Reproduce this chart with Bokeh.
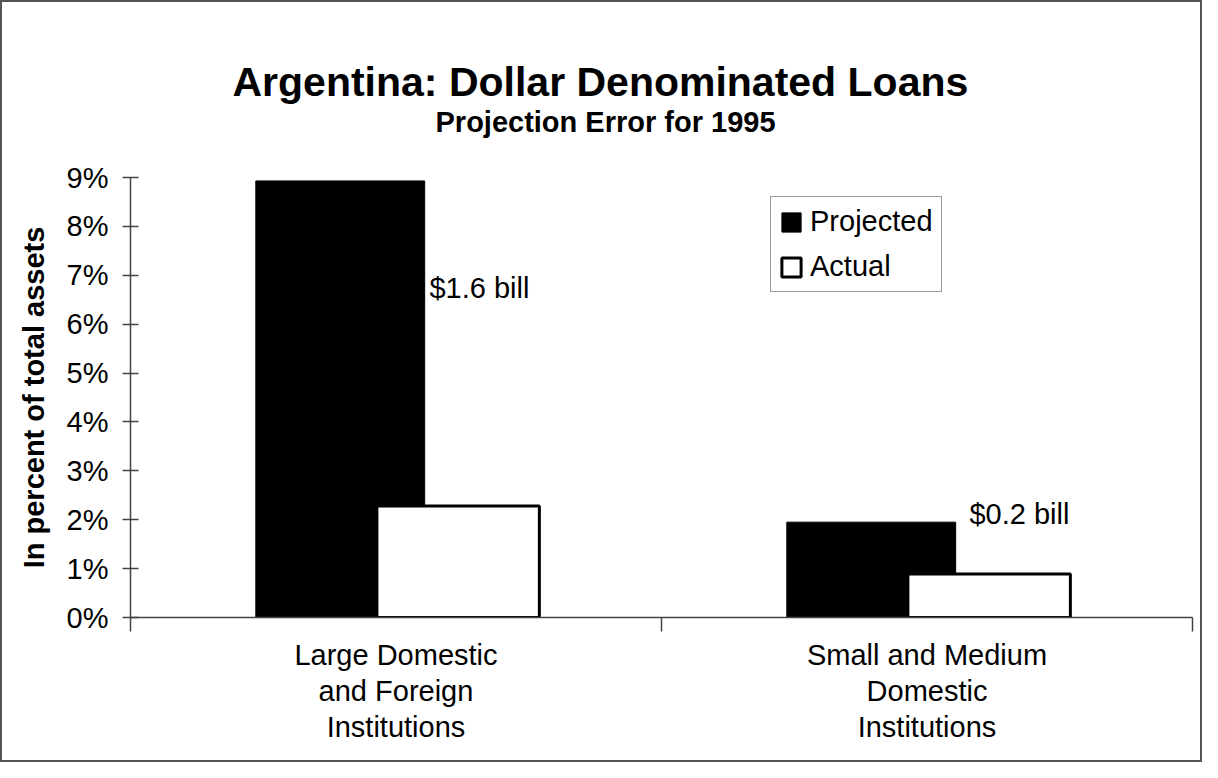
from bokeh.plotting import figure
from bokeh.models import (LinearAxis, FixedTicker, Range1d, Label, Legend,
                          LegendItem, Title)
from bokeh.embed import file_html
from bokeh.resources import INLINE

# ---------------- data ----------------
categories = ["Large Domestic\nand Foreign\nInstitutions",
              "Small and Medium\nDomestic\nInstitutions"]
projected = [8.93, 1.95]
actual = [2.28, 0.89]
gap_labels = ["$1.6 bill", "$0.2 bill"]
y_ticks = [0, 1, 2, 3, 4, 5, 6, 7, 8, 9]
y_tick_labels = ["0%", "1%", "2%", "3%", "4%", "5%", "6%", "7%", "8%", "9%"]
title_text = "Argentina: Dollar Denominated Loans"
subtitle_text = "Projection Error for 1995"
y_label = "In percent of total assets"

FONT = "Liberation Sans"
INK = "#000000"
AXC = "#444444"
FS = "29px"

p = figure(width=1202, height=762,
           x_range=Range1d(0, 2), y_range=Range1d(0, 9),
           output_backend="svg", toolbar_location=None,
           x_axis_location=None, y_axis_location=None,
           min_border_left=128, min_border_right=12,
           min_border_top=175, min_border_bottom=147)
p.grid.grid_line_color = None
p.outline_line_color = None
p.background_fill_color = "white"
p.border_fill_color = "white"
p.styles = {"border": "2px solid #555555"}

# titles (first added sits nearest the frame); an invisible spacer first
spacer = Title(text=" ", text_font=FONT, text_font_size="1px",
               text_color="white", standoff=36.5)
p.add_layout(spacer, "above")
sub = Title(text=subtitle_text, align="left", offset=305,
            text_font=FONT, text_font_size=FS, text_font_style="bold",
            text_color=INK, standoff=0)
p.add_layout(sub, "above")
ttl = Title(text=title_text, align="left", offset=102,
            text_font=FONT, text_font_size="41px", text_font_style="bold",
            text_color=INK, standoff=-3)
p.add_layout(ttl, "above")

# y axis
yax = LinearAxis(ticker=FixedTicker(ticks=y_ticks),
                 major_label_overrides={t: s for t, s in zip(y_ticks, y_tick_labels)},
                 axis_label=y_label)
yax.axis_line_color = AXC
yax.axis_line_width = 1.5
yax.major_tick_line_color = AXC
yax.major_tick_line_width = 1.5
yax.major_tick_in = 8
yax.major_tick_out = 8
yax.minor_tick_line_color = None
yax.major_label_standoff = 14
yax.major_label_text_font = FONT
yax.major_label_text_font_size = FS
yax.major_label_text_color = INK
yax.axis_label_text_font = FONT
yax.axis_label_text_font_size = FS
yax.axis_label_text_font_style = "bold"
yax.axis_label_text_color = INK
yax.axis_label_standoff = 14
p.add_layout(yax, "left")

# x axis: boundary ticks
xax1 = LinearAxis(ticker=FixedTicker(ticks=[0, 1, 2]),
                  major_label_overrides={0: "", 1: "", 2: ""})
xax1.axis_line_color = AXC
xax1.axis_line_width = 1.5
xax1.major_tick_line_color = AXC
xax1.major_tick_line_width = 1.5
xax1.major_tick_in = 0
xax1.major_tick_out = 14
xax1.minor_tick_line_color = None
xax1.major_label_text_font_size = "0px"
xax1.major_label_standoff = 0
p.add_layout(xax1, "below")

# x axis: category labels
centers = [i + 0.5 for i in range(len(categories))]
xax2 = LinearAxis(ticker=FixedTicker(ticks=centers),
                  major_label_overrides={c: s for c, s in zip(centers, categories)})
xax2.axis_line_color = None
xax2.major_tick_line_color = None
xax2.minor_tick_line_color = None
xax2.major_label_standoff = 1
xax2.major_label_text_font = FONT
xax2.major_label_text_font_size = FS
xax2.major_label_text_color = INK
xax2.major_label_text_line_height = 1.13
p.add_layout(xax2, "below")

# bars
x_proj = [c - 0.105 for c in centers]
x_act = [c + 0.117 for c in centers]
r1 = p.vbar(x=x_proj, top=projected, bottom=0, width=0.318,
            fill_color="black", line_color="black", line_width=1)
r2 = p.vbar(x=x_act, top=actual, bottom=0, width=0.306,
            fill_color="white", line_color="black", line_width=3)

# gap annotations
ann_x = [0.563, 1.580]
ann_y = [6.75, 2.11]
for t, ax_, ay_ in zip(gap_labels, ann_x, ann_y):
    p.add_layout(Label(x=ax_, y=ay_, text=t, text_font=FONT,
                       text_font_size=FS, text_color=INK,
                       text_align="left", text_baseline="alphabetic"))

# legend
legend = Legend(items=[LegendItem(label="Projected", renderers=[r1]),
                       LegendItem(label="Actual", renderers=[r2])],
                location=(640, 325))
legend.margin = 0
legend.padding = 8
legend.spacing = 12
legend.glyph_width = 24
legend.glyph_height = 24
legend.label_standoff = 7
legend.label_text_font = FONT
legend.label_text_font_size = FS
legend.label_text_color = INK
legend.border_line_color = "#333333"
legend.border_line_width = 1.5
legend.background_fill_color = "white"
legend.background_fill_alpha = 1.0
p.add_layout(legend)

open("out.html", "w").write(file_html(p, INLINE))
